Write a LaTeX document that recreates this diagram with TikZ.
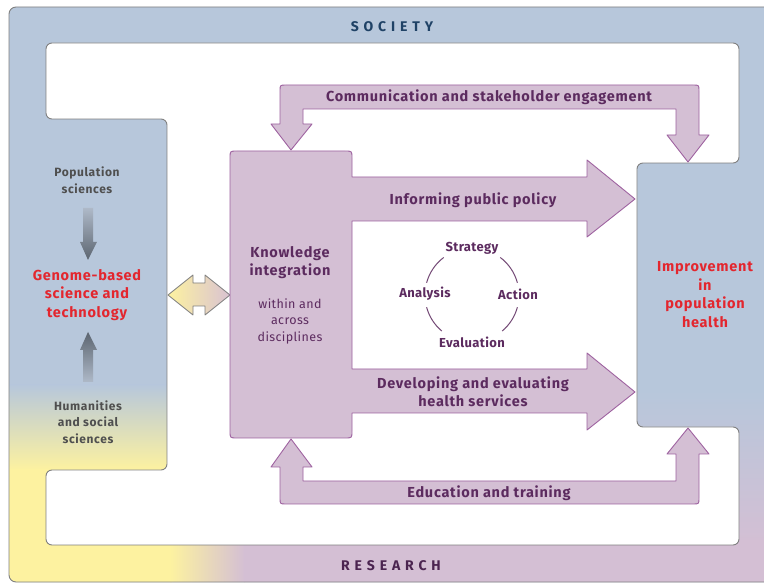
\documentclass[tikz,border=0pt]{standalone}
\usepackage{fontspec}
\setmainfont{Fira Sans}
\definecolor{cblue}{HTML}{B7C7DB}
\definecolor{purp}{HTML}{D4BFD4}
\definecolor{cyell}{HTML}{FDF2A0}
\definecolor{purpline}{HTML}{9E62A0}
\definecolor{framec}{HTML}{808080}
\definecolor{labc}{HTML}{5C2B5F}
\definecolor{redc}{HTML}{E3262E}
\definecolor{greyc}{HTML}{4F4F4F}
\definecolor{socc}{HTML}{1F4266}
\definecolor{resc}{HTML}{4B2450}
\definecolor{glight}{HTML}{AEB9C8}
\definecolor{gdark}{HTML}{5C6570}
\definecolor{dpink}{HTML}{D9C2D2}
\begin{document}
\begin{tikzpicture}[x=1pt,y=-1pt,line join=round,
  lbl/.style={text=labc,font=\bfseries\fontsize{14.5}{18}\selectfont\addfontfeatures{LetterSpace=5},align=center,inner sep=0pt},
  redlbl/.style={text=redc,font=\bfseries\fontsize{14.5}{18.5}\selectfont\addfontfeatures{LetterSpace=5},align=center,inner sep=0pt},
  greylbl/.style={text=greyc,font=\bfseries\fontsize{12}{16.5}\selectfont\addfontfeatures{LetterSpace=5},align=center,inner sep=0pt},
  smalllbl/.style={text=labc,font=\fontsize{12.5}{16.5}\selectfont\addfontfeatures{LetterSpace=3},align=center,inner sep=0pt},
  cyc/.style={text=labc,font=\bfseries\fontsize{13}{14}\selectfont\addfontfeatures{LetterSpace=3},inner sep=0pt},
  band/.style={fill=purp,draw=purpline,line width=0.9pt},
  framestyle/.style={draw=framec,line width=0.9pt},
  spaced/.style={font=\bfseries\fontsize{14}{14}\selectfont\addfontfeatures{LetterSpace=35},inner sep=0pt}
]
\useasboundingbox (0,0) rectangle (764,585);
% ---- outer frame backgrounds
\begin{scope}
\clip[rounded corners=7pt] (9,7) rectangle (800,582);
\fill[cblue] (0,0) rectangle (800,590);
\shade[top color=cblue,bottom color=cyell] (0,385) rectangle (170,470);
\fill[cyell] (0,469) rectangle (172,590);
\shade[left color=cyell,right color=purp] (170,540) rectangle (245,590);
\shade[top color=cblue,bottom color=purp] (630,390) rectangle (800,546);
\fill[purp] (244,540) rectangle (800,590);
\end{scope}
\draw[framestyle,rounded corners=7pt] (9,7) rectangle (800,582);
\draw[framestyle,fill=white,rounded corners=6pt]
  (46,43) -- (739,43) -- (739,163) -- (637,163) -- (637,427) -- (739,427)
  -- (739,545) -- (46,545) -- (46,470) -- (167,470) -- (167,119) -- (46,119) -- cycle;
% ---- titles
\node[spaced,text=socc] (society) at (392,27) {SOCIETY};
\node[spaced,text=resc] (research) at (391,566) {RESEARCH};
% ---- left panel contents
\node[greylbl] (pop) at (87,180) {Population\\sciences};
\shade[top color=glight,bottom color=gdark] (83,208) -- (93,208) -- (93,242) -- (97,242) -- (88,260) -- (80,242) -- (83,242) -- cycle;
\node[redlbl] (genome) at (87,295) {Genome-based\\science and\\technology};
\shade[top color=gdark,bottom color=glight] (88,332) -- (97,350) -- (93,350) -- (93,382) -- (83,382) -- (83,350) -- (80,350) -- cycle;
\node[greylbl] (hum) at (88,422) {Humanities\\and social\\sciences};
% ---- double arrow
\shade[left color=cyell,right color=dpink,draw=framec,line width=0.8pt]
  (168,295) -- (193,275) -- (193,283) -- (205,283) -- (205,275) -- (230,295)
  -- (205,315) -- (205,306) -- (193,306) -- (193,315) -- cycle;
% ---- communication arrow (top)
\draw[band] (291,150) -- (312,124) -- (303,124) -- (303,109) -- (676,109) -- (676,135)
  -- (667,135) -- (688,162) -- (709,135) -- (699,135) -- (699,91)
  .. controls (699,85) .. (693,85) -- (286,85) .. controls (280,85) .. (280,91)
  -- (280,124) -- (271,124) -- cycle;
\node[lbl] (comm) at (489,97) {Communication and stakeholder engagement};
% ---- education arrow (bottom)
\draw[band] (291,439) -- (312,467) -- (303,467) -- (303,481) -- (676,481) -- (676,454)
  -- (667,454) -- (688,428) -- (709,454) -- (699,454) -- (699,498)
  .. controls (699,504) .. (693,504) -- (286,504) .. controls (280,504) .. (280,498)
  -- (280,467) -- (271,467) -- cycle;
\node[lbl] (edu) at (489,493) {Education and training};
% ---- knowledge box with two arrows
\draw[band] (352,177) -- (587,177) -- (587,160) -- (635,199) -- (587,237) -- (587,221)
  -- (352,221) -- (352,369) -- (587,369) -- (587,353) -- (635,392) -- (587,430)
  -- (587,413) -- (352,413) -- (352,431) .. controls (352,438) .. (345,438)
  -- (237,438) .. controls (230,438) .. (230,431) -- (230,158)
  .. controls (230,151) .. (237,151) -- (345,151) .. controls (352,151) .. (352,158) -- cycle;
\node[lbl] (know) at (290,263) {Knowledge\\integration};
\node[smalllbl] (within) at (290,321) {within and\\across\\disciplines};
\node[lbl] (inform) at (473,200) {Informing public policy};
\node[lbl] (dev) at (473,392) {Developing and evaluating\\health services};
% ---- cycle
\node[cyc] (strat) at (472,248) {Strategy};
\node[cyc] (eval) at (472,342) {Evaluation};
\node[cyc] (anal) at (425,294) {Analysis};
\node[cyc] (act) at (518,294) {Action};
\begin{scope}[shift={(472,295)},x=1pt,y=1pt]
\draw[labc!85,line width=1pt] (127:47) arc[start angle=127,end angle=165,radius=47];
\draw[labc!85,line width=1pt] (195:47) arc[start angle=195,end angle=230,radius=47];
\draw[labc!85,line width=1pt] (53:47) arc[start angle=53,end angle=15,radius=47];
\draw[labc!85,line width=1pt] (-15:47) arc[start angle=-15,end angle=-50,radius=47];
\end{scope}
% ---- right panel text
\node[redlbl] (impr) at (705,294.5) {Improvement\\in\\population\\health};
\end{tikzpicture}
\end{document}
